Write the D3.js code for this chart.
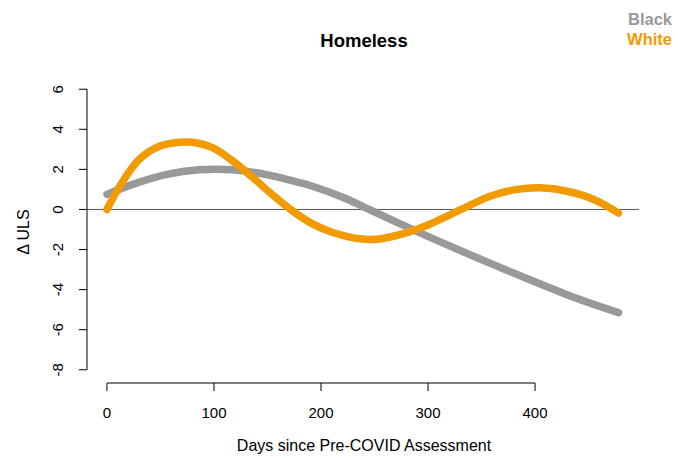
<!DOCTYPE html>
<html>
<head>
<meta charset="utf-8">
<script src="https://cdn.jsdelivr.net/npm/d3@7"></script>
<style>
  html, body { margin: 0; padding: 0; background: #fff; }
  svg { display: block; font-family: "Liberation Sans", Arial, sans-serif; }
</style>
</head>
<body>
<svg id="chart" width="686" height="458"></svg>
<script>
// Change in ULS over time for homeless participants, by race
const daysBlack = [0, 24, 55, 86, 117, 149, 177, 192, 223, 245, 270, 303, 342, 373, 405, 436, 478];
const ulsBlack  = [0.75, 1.25, 1.74, 1.98, 1.98, 1.74, 1.38, 1.16, 0.55, 0, -0.62, -1.42, -2.32, -3.02, -3.72, -4.38, -5.15];

const daysWhite = [0, 12, 30, 49, 68, 80, 99, 118, 136, 155, 172, 192, 211, 236, 255, 280, 301, 320, 331, 358, 383, 405, 430, 455, 478];
const ulsWhite  = [0, 1.16, 2.49, 3.15, 3.35, 3.35, 3.07, 2.4, 1.6, 0.72, -0.02, -0.72, -1.15, -1.46, -1.47, -1.16, -0.75, -0.28, 0, 0.66, 1.0, 1.08, 0.91, 0.5, -0.18];

const xTicks = [0, 100, 200, 300, 400];
const yTicks = [-8, -6, -4, -2, 0, 2, 4, 6];

const seriesNames  = ["Black", "White"];
const seriesColors = ["#999999", "#f29b00"];

const svg = d3.select("#chart");

// Plot region follows R's 4% axis padding around the data range
const x = d3.scaleLinear().domain([-19.12, 497.12]).range([86.5, 639]);
const y = d3.scaleLinear().domain([-8.56, 6.56]).range([381, 78]);

// x axis (spans the tick range only)
const xAxis = svg.append("g").attr("transform", "translate(0,383)");
xAxis.append("line")
  .attr("x1", x(0)).attr("x2", x(400))
  .attr("stroke", "#000").attr("stroke-width", 1);
xAxis.selectAll("line.tick").data(xTicks).enter().append("line")
  .attr("class", "tick")
  .attr("x1", d => x(d)).attr("x2", d => x(d))
  .attr("y1", 0).attr("y2", 8)
  .attr("stroke", "#000");
xAxis.selectAll("text").data(xTicks).enter().append("text")
  .attr("x", d => x(d)).attr("y", 35)
  .attr("text-anchor", "middle")
  .attr("font-size", 15)
  .text(d => d);

// y axis
const yAxis = svg.append("g").attr("transform", "translate(87,0)");
yAxis.append("line")
  .attr("y1", y(-8)).attr("y2", y(6))
  .attr("stroke", "#000");
yAxis.selectAll("line.tick").data(yTicks).enter().append("line")
  .attr("class", "tick")
  .attr("x1", 0).attr("x2", -8)
  .attr("y1", d => y(d)).attr("y2", d => y(d))
  .attr("stroke", "#000");
yAxis.selectAll("text").data(yTicks).enter().append("text")
  .attr("transform", d => `translate(-24,${y(d)}) rotate(-90)`)
  .attr("text-anchor", "middle")
  .attr("font-size", 15)
  .text(d => d);

// reference line at zero
svg.append("line")
  .attr("x1", x(-19.12)).attr("x2", x(497.12))
  .attr("y1", y(0)).attr("y2", y(0))
  .attr("stroke", "#555").attr("stroke-width", 1);

// fitted curves
const line = d3.line()
  .x(d => x(d[0]))
  .y(d => y(d[1]))
  .curve(d3.curveCatmullRom.alpha(0.5));

const series = [
  d3.zip(daysBlack, ulsBlack),
  d3.zip(daysWhite, ulsWhite)
];

svg.selectAll("path.curve").data(series).enter().append("path")
  .attr("class", "curve")
  .attr("d", line)
  .attr("fill", "none")
  .attr("stroke", (d, i) => seriesColors[i])
  .attr("stroke-width", 7.5)
  .attr("stroke-linecap", "round")
  .attr("stroke-linejoin", "round");

// title
svg.append("text")
  .attr("x", 364).attr("y", 47)
  .attr("text-anchor", "middle")
  .attr("font-size", 18.5).attr("font-weight", "bold")
  .text("Homeless");

// axis titles
svg.append("text")
  .attr("x", 364).attr("y", 451)
  .attr("text-anchor", "middle")
  .attr("font-size", 16)
  .text("Days since Pre-COVID Assessment");

svg.append("text")
  .attr("transform", `translate(29,232) rotate(-90)`)
  .attr("text-anchor", "middle")
  .attr("font-size", 16)
  .text("Δ ULS");

// legend
svg.selectAll("text.legend").data(seriesNames).enter().append("text")
  .attr("class", "legend")
  .attr("x", 672).attr("y", (d, i) => 25 + i * 20)
  .attr("text-anchor", "end")
  .attr("font-size", 16.5).attr("font-weight", "bold")
  .attr("fill", (d, i) => seriesColors[i])
  .text(d => d);
</script>
</body>
</html>
